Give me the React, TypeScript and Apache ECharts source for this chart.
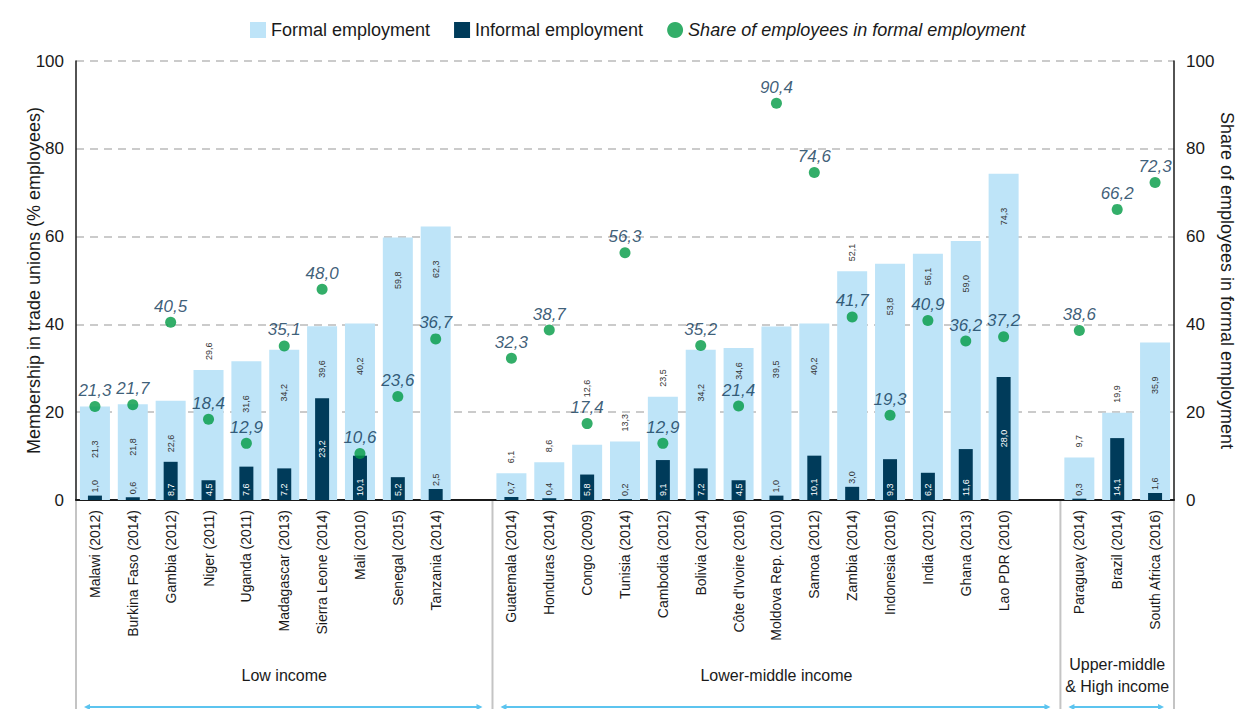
import React, { useEffect, useRef } from 'react';
import * as echarts from 'echarts';

// ---------- data ----------
const groupNames = ['Low income', 'Lower-middle income', 'Upper-middle\n& High income'];

const lowCountries = ['Malawi (2012)', 'Burkina Faso (2014)', 'Gambia (2012)', 'Niger (2011)', 'Uganda (2011)', 'Madagascar (2013)', 'Sierra Leone (2014)', 'Mali (2010)', 'Senegal (2015)', 'Tanzania (2014)'];
const lowFormal = [21.3, 21.8, 22.6, 29.6, 31.6, 34.2, 39.6, 40.2, 59.8, 62.3];
const lowInformal = [1.0, 0.6, 8.7, 4.5, 7.6, 7.2, 23.2, 10.1, 5.2, 2.5];
const lowShare = [21.3, 21.7, 40.5, 18.4, 12.9, 35.1, 48.0, 10.6, 23.6, 36.7];

const lmCountries = ['Guatemala (2014)', 'Honduras (2014)', 'Congo (2009)', 'Tunisia (2014)', 'Cambodia (2012)', 'Bolivia (2014)', "Côte d'Ivoire (2016)", 'Moldova Rep. (2010)', 'Samoa (2012)', 'Zambia (2014)', 'Indonesia (2016)', 'India (2012)', 'Ghana (2013)', 'Lao PDR (2010)'];
const lmFormal = [6.1, 8.6, 12.6, 13.3, 23.5, 34.2, 34.6, 39.5, 40.2, 52.1, 53.8, 56.1, 59.0, 74.3];
const lmInformal = [0.7, 0.4, 5.8, 0.2, 9.1, 7.2, 4.5, 1.0, 10.1, 3.0, 9.3, 6.2, 11.6, 28.0];
const lmShare = [32.3, 38.7, 17.4, 56.3, 12.9, 35.2, 21.4, 90.4, 74.6, 41.7, 19.3, 40.9, 36.2, 37.2];

const umCountries = ['Paraguay (2014)', 'Brazil (2014)', 'South Africa (2016)'];
const umFormal = [9.7, 19.9, 35.9];
const umInformal = [0.3, 14.1, 1.6];
const umShare = [38.6, 66.2, 72.3];

const yTicks = [0, 20, 40, 60, 80, 100];

// ---------- build (one empty slot between groups) ----------
const groups = [
  { name: groupNames[0], c: lowCountries, f: lowFormal, i: lowInformal, s: lowShare },
  { name: groupNames[1], c: lmCountries, f: lmFormal, i: lmInformal, s: lmShare },
  { name: groupNames[2], c: umCountries, f: umFormal, i: umInformal, s: umShare },
];
const categories: string[] = [];
const formal: (number | null)[] = [];
const informal: (number | null)[] = [];
const share: (number | null)[] = [];
const groupRanges: { name: string; start: number; end: number }[] = [];
groups.forEach((g, gi) => {
  const start = categories.length;
  g.c.forEach((name, k) => {
    categories.push(name);
    formal.push(g.f[k]);
    informal.push(g.i[k]);
    share.push(g.s[k]);
  });
  if (gi < groups.length - 1) {
    categories.push(' '.repeat(gi + 1));
    formal.push(null);
    informal.push(null);
    share.push(null);
  }
  groupRanges.push({ name: g.name, start, end: categories.length - 1 });
});

const SANS = "'Liberation Sans', Arial, sans-serif";
const C_FORMAL = '#bee4f8';
const C_INFORMAL = '#003b5a';
const C_SHARE = '#009a44';
const C_SHARE_TXT = '#0b3656';
const INK = '#1a1a1a';

const GRID = { left: 76, right: 65, top: 61, bottom: 209 };
const CHART_H = 709;

const fmt = (v: number) => v.toFixed(1).replace('.', ',');

export default function App() {
  const ref = useRef<HTMLDivElement>(null);

  useEffect(() => {
    if (!ref.current) return;
    const chart = echarts.init(ref.current, undefined, { renderer: 'svg' });

    const yMin = yTicks[0];
    const yMax = yTicks[yTicks.length - 1];
    const pxPerUnit = (CHART_H - GRID.top - GRID.bottom) / (yMax - yMin);
    const LABEL_LEN = 18 / pxPerUnit; // length of a small rotated value label, in value units
    const overlaps = (a0: number, a1: number, b0: number, b1: number) => a0 < b1 && b0 < a1;

    // formal-bar value labels: inside near the top, or above the bar, avoiding the share dot and its label
    const formalData = formal.map((v, k) => {
      if (v == null) return null;
      const s = share[k] as number;
      const dotLo = s - 1.5;
      const dotHi = s + 5.5;
      const inside = (d: number) => {
        const hi = v - d / pxPerUnit;
        return !overlaps(hi - LABEL_LEN, hi, dotLo, dotHi);
      };
      let label: any = null;
      if (v >= 20) {
        if (inside(34)) label = { position: 'insideTop', distance: 34, align: 'right', verticalAlign: 'middle' };
        else if (inside(14)) label = { position: 'insideTop', distance: 14, align: 'right', verticalAlign: 'middle' };
      }
      if (!label) {
        let d = 10;
        const lo = v + d / pxPerUnit;
        if (overlaps(lo, lo + LABEL_LEN, dotLo, dotHi)) d = (dotHi + 0.5 - v) * pxPerUnit;
        label = { position: 'top', distance: d, align: 'left', verticalAlign: 'middle' };
      }
      return { value: v, label };
    });

    const informalData = informal.map((v) => {
      if (v == null) return null;
      let label: any;
      if (v < 3.5) label = { position: 'top', distance: 3, align: 'left', verticalAlign: 'middle', color: '#333333' };
      else if (v > 20) label = { position: 'inside', align: 'center', verticalAlign: 'middle', color: '#ffffff' };
      else label = { position: 'insideBottom', distance: 4, align: 'left', verticalAlign: 'middle', color: '#ffffff' };
      return { value: v, label };
    });

    const yAxisBase = {
      type: 'value',
      min: yMin,
      max: yMax,
      interval: yTicks[1] - yTicks[0],
      axisTick: { show: false },
      axisLine: { show: true, lineStyle: { color: INK, width: 1.5 } },
      axisLabel: { fontSize: 17, fontFamily: SANS, color: INK, margin: 12 },
      nameLocation: 'middle',
      nameMoveOverlap: false,
      nameTextStyle: { fontSize: 18, fontFamily: SANS, color: INK },
    };

    const option: any = {
      animation: false,
      backgroundColor: '#ffffff',
      grid: { ...GRID, containLabel: false, outerBoundsMode: 'none' },
      legend: {
        left: 245,
        top: 16,
        itemWidth: 16,
        itemHeight: 16,
        itemGap: 24,
        textStyle: { fontSize: 18, fontFamily: SANS, color: INK },
        data: [
          { name: 'Formal employment', icon: 'rect' },
          { name: 'Informal employment', icon: 'rect' },
          { name: 'Share of employees in formal employment', icon: 'circle', textStyle: { fontStyle: 'italic' } },
        ],
      },
      xAxis: [
        {
          type: 'category',
          data: categories,
          axisLine: { lineStyle: { color: INK, width: 2 } },
          axisTick: { show: false },
          splitLine: { show: false },
          axisLabel: { interval: 0, rotate: 90, margin: 10, fontSize: 14, fontFamily: SANS, color: INK },
        },
        { type: 'category', data: categories, show: false },
      ],
      yAxis: [
        {
          ...yAxisBase,
          position: 'left',
          name: 'Membership in trade unions (% employees)',
          nameGap: 33,
          splitLine: { show: true, lineStyle: { color: '#bbbbbb', width: 1.5, type: [8, 6] } },
        },
        {
          ...yAxisBase,
          position: 'right',
          name: 'Share of employees in formal employment',
          nameGap: 44,
          nameRotate: -90,
          splitLine: { show: false },
        },
      ],
      series: [
        {
          name: 'Formal employment',
          type: 'bar',
          xAxisIndex: 0,
          yAxisIndex: 0,
          barWidth: 30,
          itemStyle: { color: C_FORMAL },
          label: {
            show: true,
            rotate: 90,
            fontSize: 9,
            fontFamily: SANS,
            color: '#333333',
            formatter: (p: any) => fmt(p.value),
          },
          data: formalData,
          z: 2,
        },
        {
          name: 'Informal employment',
          type: 'bar',
          xAxisIndex: 1,
          yAxisIndex: 0,
          barWidth: 14,
          itemStyle: { color: C_INFORMAL },
          label: {
            show: true,
            rotate: 90,
            fontSize: 9,
            fontFamily: SANS,
            formatter: (p: any) => fmt(p.value),
          },
          data: informalData,
          z: 3,
        },
        {
          name: 'Share of employees in formal employment',
          type: 'scatter',
          xAxisIndex: 0,
          yAxisIndex: 1,
          symbol: 'circle',
          symbolSize: 11,
          itemStyle: { color: C_SHARE },
          label: {
            show: true,
            position: 'top',
            distance: 2,
            fontSize: 17,
            fontStyle: 'italic',
            fontFamily: SANS,
            color: C_SHARE_TXT,
            formatter: (p: any) => fmt(p.value),
          },
          data: share,
          z: 5,
        },
      ],
    };

    chart.setOption(option);

    // decorations below the axis, computed from the axis scale
    const cx = (i: number) => chart.convertToPixel({ xAxisIndex: 0 }, i) as number;
    const slot = cx(1) - cx(0);
    const y0 = chart.convertToPixel({ yAxisIndex: 0 }, 0) as number;
    const graphic: any[] = [];
    const edges: number[] = [];
    groupRanges.forEach((g, gi) => {
      const left = cx(g.start) - slot / 2;
      const right = cx(g.end) + slot / 2;
      if (gi === 0) edges.push(left);
      edges.push(right);
      graphic.push({
        type: 'text',
        x: (left + right) / 2,
        y: 675,
        style: {
          text: g.name,
          fontSize: 16,
          fontFamily: SANS,
          fill: INK,
          align: 'center',
          verticalAlign: 'middle',
          lineHeight: 22,
        },
      });
      const ay = 707;
      const ax1 = left + 10;
      const ax2 = right - 12;
      graphic.push({
        type: 'line',
        shape: { x1: ax1, y1: ay, x2: ax2, y2: ay },
        style: { stroke: '#5cc4ef', lineWidth: 2 },
      });
      graphic.push({
        type: 'polygon',
        shape: { points: [[ax1 - 2, ay], [ax1 + 4, ay - 3], [ax1 + 4, ay + 3]] },
        style: { fill: '#5cc4ef' },
      });
      graphic.push({
        type: 'polygon',
        shape: { points: [[ax2 + 2, ay], [ax2 - 4, ay - 3], [ax2 - 4, ay + 3]] },
        style: { fill: '#5cc4ef' },
      });
    });
    edges.forEach((x) => {
      graphic.push({
        type: 'line',
        shape: { x1: x, y1: y0 + 1, x2: x, y2: CHART_H },
        style: { stroke: '#c4c4c4', lineWidth: 2 },
        z: 1,
      });
    });
    chart.setOption({ graphic });

    return () => chart.dispose();
  }, []);

  return (
    <div
      ref={ref}
      style={{ position: 'absolute', left: 0, top: 0, width: 1239, height: CHART_H, background: '#fff' }}
    />
  );
}
